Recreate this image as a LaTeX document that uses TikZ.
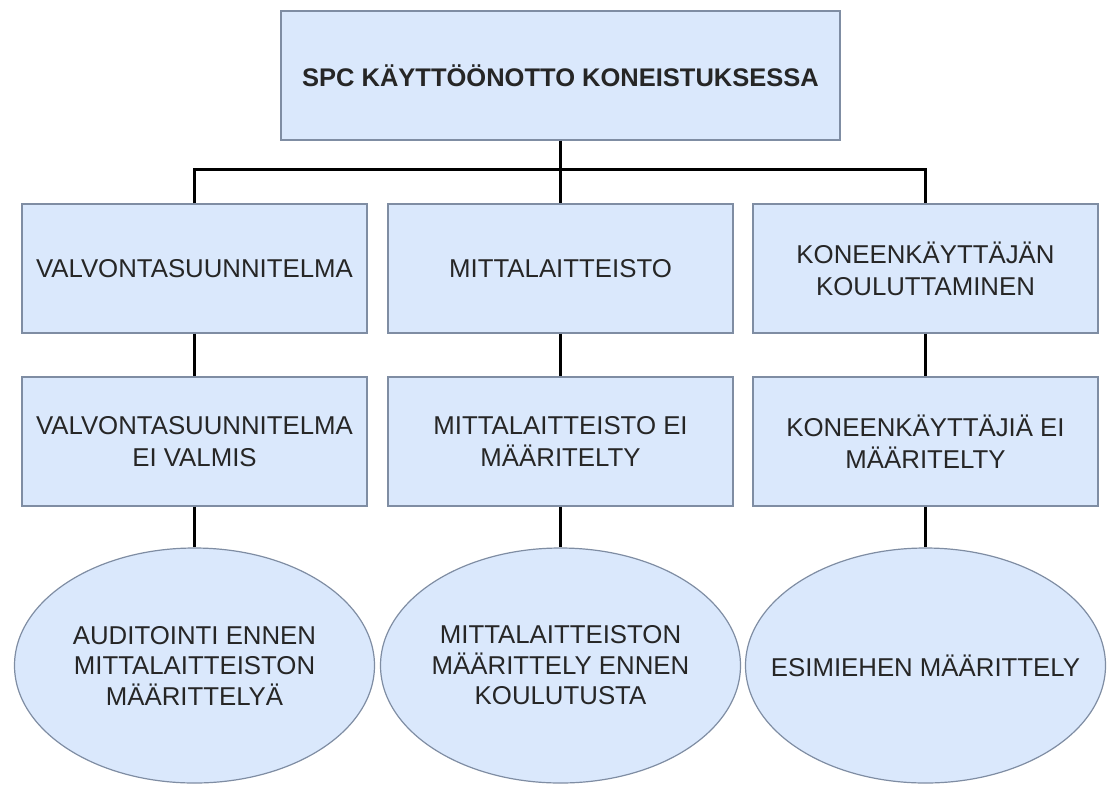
\documentclass[tikz,border=0pt]{standalone}
\usepackage{fontspec}
\setmainfont{Liberation Sans}
\usepackage{tikz}
\usetikzlibrary{shapes}
\usepackage{xcolor}
\definecolor{boxfill}{HTML}{DAE8FC}
\definecolor{boxline}{HTML}{7F8DA3}
\definecolor{txt}{HTML}{262626}

\begin{document}
\begin{tikzpicture}[x=1pt,y=-1pt,
    box/.style={draw=boxline, fill=boxfill, line width=1.2pt, inner sep=0pt,
        minimum width=345pt, minimum height=129pt, align=center, text=txt,
        font=\fontsize{25.8}{32}\selectfont},
    oval/.style={box, ellipse, inner xsep=-60pt, minimum width=360pt, minimum height=235pt,
        font=\fontsize{25.8}{30.5}\selectfont},
    link/.style={line width=3pt}]
    \useasboundingbox (0,0) rectangle (1108,785);

    % top
    \node[box, minimum width=559pt, font=\bfseries\fontsize{25.5}{32}\selectfont] (top) at (560.5,75.5) {SPC KÄYTTÖÖNOTTO KONEISTUKSESSA};

    % row 1
    \node[box] (vs1) at (194.5,268.5) {VALVONTASUUNNITELMA};
    \node[box] (mt1) at (560.5,268.5) {MITTALAITTEISTO};
    \node[box] (kk1) at (925.5,268.5) {KONEENKÄYTTÄJÄN\\KOULUTTAMINEN};

    % row 2
    \node[box] (vs2) at (194.5,441.5) {VALVONTASUUNNITELMA\\EI VALMIS};
    \node[box] (mt2) at (560.5,441.5) {MITTALAITTEISTO EI\\MÄÄRITELTY};
    \node[box] (kk2) at (925.5,441.5) {KONEENKÄYTTÄJIÄ EI\\MÄÄRITELTY};

    % row 3
    \node[oval] (vs3) at (194.5,665.5) {AUDITOINTI ENNEN\\MITTALAITTEISTON\\MÄÄRITTELYÄ};
    \node[oval] (mt3) at (560.5,665.5) {MITTALAITTEISTON\\MÄÄRITTELY ENNEN\\KOULUTUSTA};
    \node[oval] (kk3) at (925.5,665.5) {ESIMIEHEN MÄÄRITTELY};

    % connectors
    \coordinate (bus) at (560.5,169);
    \draw[link] (top.south) -- (mt1.north);
    \draw[link] (vs1.north) |- (bus) -| (kk1.north);
    \foreach \c in {vs,mt,kk} {
        \draw[link] (\c1) -- (\c2);
        \draw[link] (\c2) -- (\c3);
    }
\end{tikzpicture}
\end{document}
